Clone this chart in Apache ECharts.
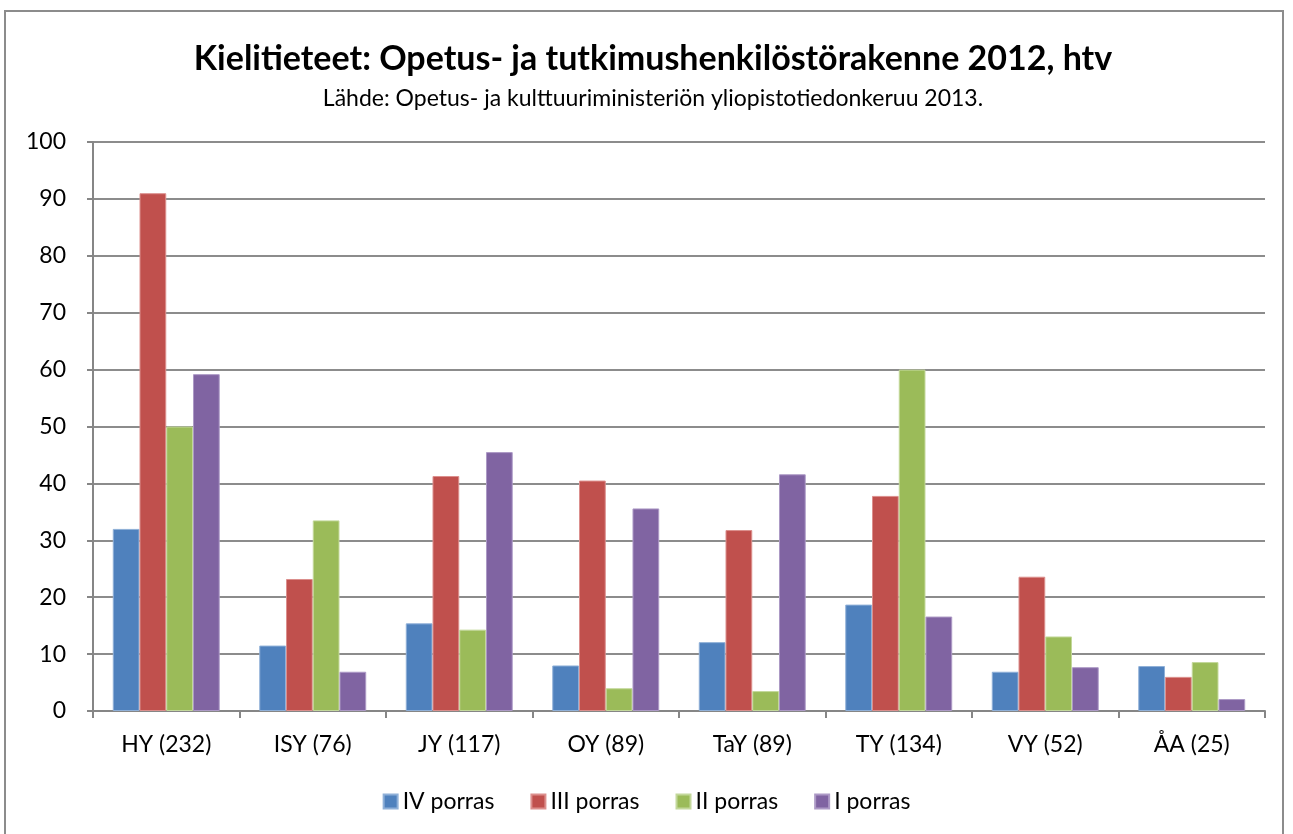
<!DOCTYPE html>
<html>
<head>
<meta charset="utf-8">
<script src="https://cdn.jsdelivr.net/npm/echarts@6/dist/echarts.min.js"></script>
<style>
  html, body { margin: 0; padding: 0; background: #fff; }
  #frame {
    position: absolute; left: 4px; top: 10px; width: 1280px; height: 840px;
    border: 2px solid #8c8c8c; box-sizing: border-box;
  }
  #chart { position: absolute; left: 0; top: 0; width: 1293px; height: 834px; }
</style>
</head>
<body>
<div id="frame"></div>
<div id="chart"></div>
<script>
const categories = ["HY (232)", "ISY (76)", "JY (117)", "OY (89)", "TaY (89)", "TY (134)", "VY (52)", "ÅA (25)"];
const seriesNames = ["IV porras", "III porras", "II porras", "I porras"];
const porrasIV = [32.0, 11.5, 15.4, 8.0, 12.1, 18.7, 6.9, 7.9];
const porrasIII = [91.0, 23.2, 41.3, 40.5, 31.8, 37.8, 23.6, 6.0];
const porrasII = [50.0, 33.5, 14.3, 4.0, 3.5, 60.0, 13.1, 8.6];
const porrasI = [59.2, 6.9, 45.5, 35.6, 41.6, 16.6, 7.7, 2.1];
const colors = ["#4F81BD", "#C0504D", "#9BBB59", "#8064A2"];
const borderColors = ["#8fb0d8", "#dc8f8d", "#c3d89b", "#ad9ac6"];

const chart = echarts.init(document.getElementById("chart"));
const font = "Lato, 'Open Sans', sans-serif";

chart.setOption({
  animation: false,
  textStyle: { fontFamily: font },
  title: {
    text: "Kielitieteet: Opetus- ja tutkimushenkilöstörakenne 2012, htv",
    subtext: "Lähde: Opetus- ja kulttuuriministeriön yliopistotiedonkeruu 2013.",
    left: 648,
    textAlign: "center",
    top: 37,
    itemGap: 11,
    textStyle: { fontSize: 34, fontWeight: "bold", color: "#000", fontFamily: font },
    subtextStyle: { fontSize: 23, color: "#000", fontFamily: font }
  },
  legend: {
    data: seriesNames,
    bottom: 16,
    left: "center",
    itemWidth: 14,
    itemHeight: 14,
    itemGap: 36,
    icon: "rect",
    textStyle: { fontSize: 23, color: "#000", fontFamily: font }
  },
  grid: { left: 93, right: 28, top: 142, bottom: 123 },
  xAxis: {
    type: "category",
    data: categories,
    axisLine: { lineStyle: { color: "#868686", width: 2 } },
    axisTick: { show: true, length: 7, lineStyle: { color: "#868686", width: 2 } },
    axisLabel: { fontSize: 23, color: "#000", margin: 22, fontFamily: font }
  },
  yAxis: {
    type: "value",
    min: 0,
    max: 100,
    interval: 10,
    axisLine: { show: true, lineStyle: { color: "#868686", width: 2 } },
    axisTick: { show: true, length: 6, lineStyle: { color: "#868686", width: 2 } },
    axisLabel: { fontSize: 23, color: "#000", margin: 27, fontFamily: font },
    splitLine: { lineStyle: { color: "#8c8c8c", width: 2 } }
  },
  series: [porrasIV, porrasIII, porrasII, porrasI].map((values, i) => ({
    name: seriesNames[i],
    type: "bar",
    data: values,
    barGap: "0%",
    barCategoryGap: "27%",
    itemStyle: { color: colors[i], borderColor: borderColors[i], borderWidth: 1 }
  }))
});
</script>
</body>
</html>
